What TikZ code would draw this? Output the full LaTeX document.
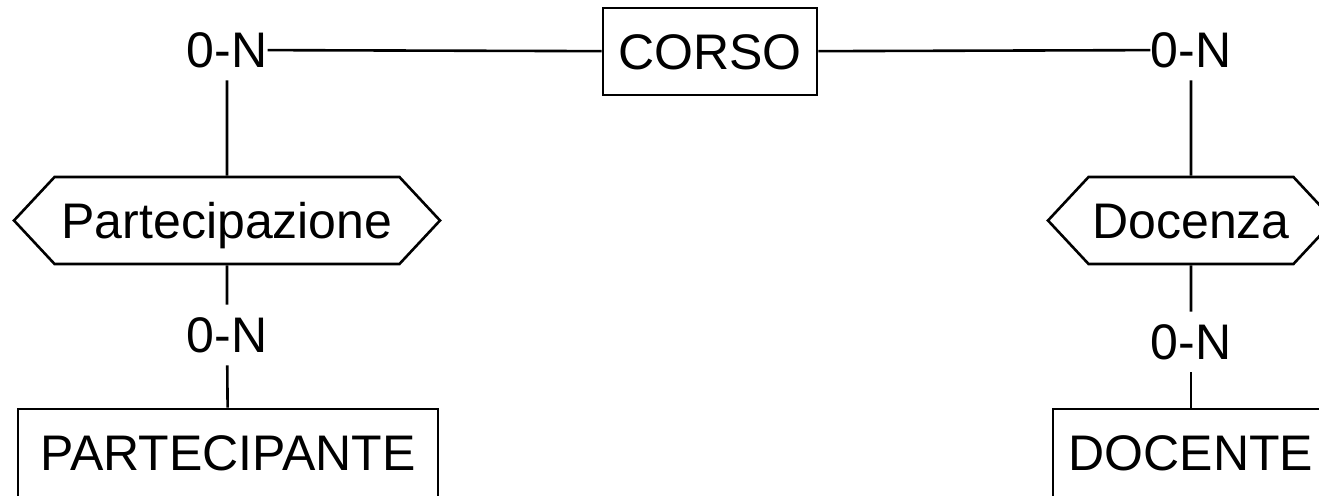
\documentclass[tikz,border=0pt]{standalone}
\usepackage{fontspec}
\setmainfont{Liberation Sans}
\usetikzlibrary{shapes.symbols}
\begin{document}
\begin{tikzpicture}[
        x=0.5pt, y=-0.5pt,
        every node/.style={font=\fontsize{25pt}{30pt}\selectfont, text height=17.9pt, text depth=0pt},
        entity/.style={draw=black, line width=1.3pt, rectangle, inner sep=0pt},
        relation/.style={draw=black, line width=1.3pt, signal, signal to=west and east, signal pointer angle=94, inner sep=0pt, minimum height=43.5pt},
        card/.style={inner xsep=0pt, inner ysep=6pt},
        edge/.style={line width=1.3pt, black}
    ]
        \useasboundingbox (0,0) rectangle (1319,496);

        \node[entity, minimum width=107pt, minimum height=43.5pt] (corso) at (710, 51.5) {CORSO};
        \node[entity, minimum width=210pt, minimum height=44pt] (partecipante) at (228, 453) {PARTECIPANTE};
        \node[entity, minimum width=138pt, minimum height=44pt] (docente) at (1191, 453) {DOCENTE};

        \node[relation, minimum width=213pt] (partecipazione) at (227, 220.5) {Partecipazione};
        \node[relation, minimum width=143pt] (docenza) at (1191, 220.5) {Docenza};

        \node[card] (c1) at (227, 50) {0-N};
        \node[card] (c2) at (227, 335) {0-N};
        \node[card] (c3) at (1191, 50) {0-N};
        \node[card] (c4) at (1191, 342) {0-N};

        \draw[edge] (c1) -- (corso);
        \draw[edge] (corso) -- (c3);
        \draw[edge] (c1) -- (partecipazione);
        \draw[edge] (partecipazione) -- (c2);
        \draw[edge] (c2) -- (partecipante);
        \draw[edge] (c3) -- (docenza);
        \draw[edge] (docenza) -- (c4);
        \draw[edge] (c4) -- (docente);
    \end{tikzpicture}
\end{document}
